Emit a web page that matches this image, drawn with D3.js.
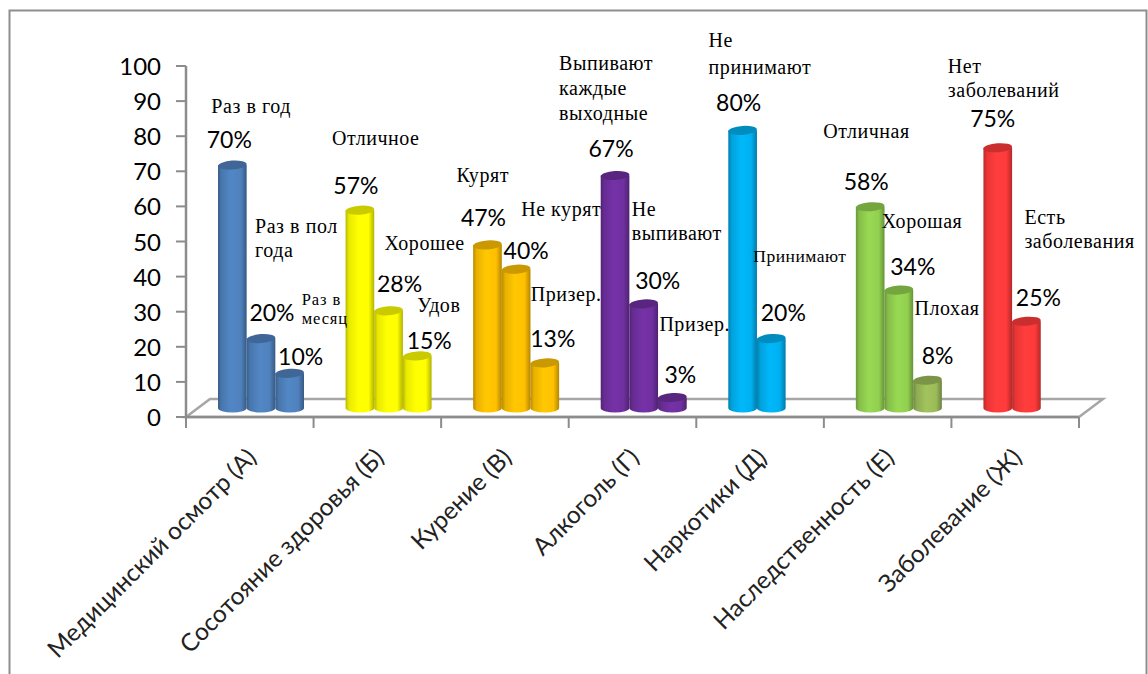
<!DOCTYPE html>
<html><head><meta charset="utf-8">
<script src="https://cdn.jsdelivr.net/npm/d3@7/dist/d3.min.js"></script>
<style>html,body{margin:0;padding:0;background:#fff}svg{display:block}</style>
</head><body><svg id="c" width="1148" height="674"></svg>
<script>
const categories = ["Медицинский осмотр (А)","Сосотояние здоровья (Б)","Курение (В)","Алкоголь (Г)","Наркотики (Д)","Наследственность (Е)","Заболевание (Ж)"];
const series1 = [70,57,47,67,80,58,75];
const series2 = [20,28,40,30,20,34,25];
const series3 = [10,15,13,3,null,8,null];
const yTicks = [0,10,20,30,40,50,60,70,80,90,100];
const names1 = [["Раз в год"],["Отличное"],["Курят"],["Выпивают","каждые","выходные"],["Не","принимают"],["Отличная"],["Нет","заболеваний"]];
const names2 = [["Раз в пол","года"],["Хорошее"],["Не курят"],["Не","выпивают"],["Принимают"],["Хорошая"],["Есть","заболевания"]];
const names3 = [["Раз в","месяц"],["Удов"],["Призер."],["Призер."],null,["Плохая"],null];
const colors1 = ["#4f81bd","#ffff00","#ffc000","#7030a0","#00b0f0","#92d050","#ff3a3a"];
const colors2 = colors1;
const colors3 = ["#4f81bd","#ffff00","#ffc000","#7030a0",null,"#9bbb59",null];

// layout: percent-label offset from bar top centre, free text anchor offset from bar top centre
const pctOff = [[[-3,-17],[11,-18],[11,-8]],[[-4,-16],[11,-19],[12,-7]],[[-4,-19],[10,-10],[8,-16]],[[-4,-19],[14,-15],[8,-15]],[[-4,-19],[12,-18]],[[-4,-17],[14,-15],[10,-16]],[[-5,-21],[12,-15]]];
const nameOff = [[[-21,-52],[-6,-106],[12,-68]],[[-28,-65],[-4,-61],[0,-44]],[[-31,-63],[5,-53],[-14,-62]],[[-56,-106],[-12,-88],[-13,-67]],[[-34,-83],[-18,-77]],[[-47,-69],[-17,-62],[-13,-65]],[[-50,-75],[-2,-97]]];

const W=1148,H=674;
const svg=d3.select("#c");
const defs=svg.append("defs");
const x=d3.scaleBand().domain(categories).range([186,1079]);
const inner=d3.scaleBand().domain([0,1,2]).range([32,118]);
const yAxisS=d3.scaleLinear().domain([0,100]).range([417,66]);
const yBar=d3.scaleLinear().domain([0,100]).range([408,61]);
const gray="#8c8c8c";

// frame
svg.append("path").attr("d","M9.5 674V10.5H1146.5V674").attr("fill","none").attr("stroke","#8e8e8e").attr("stroke-width",2);

// floor
const depth=24,rise=18;
svg.append("path").attr("d",`M186 417L${186+depth} ${417-rise}H${1079+depth}L1079 417Z`).attr("fill","#fff").attr("stroke","#a6a6a6").attr("stroke-width",2.5);
svg.append("path").attr("d","M186 66V417H1079").attr("fill","none").attr("stroke",gray).attr("stroke-width",2.5);

// y axis
const yG=svg.append("g");
yG.selectAll("line").data(yTicks).join("line").attr("x1",176).attr("x2",186).attr("y1",d=>yAxisS(d)).attr("y2",d=>yAxisS(d)).attr("stroke",gray).attr("stroke-width",2);
yG.selectAll("text").data(yTicks).join("text").attr("x",161).attr("y",d=>yAxisS(d)+9).attr("text-anchor","end").attr("font-family","Lato").attr("font-size",24).attr("fill","#000").text(d=>d);

// x ticks
const xt=[...categories.map(c=>x(c)),1079];
svg.append("g").selectAll("line").data(xt).join("line").attr("x1",d=>d).attr("x2",d=>d).attr("y1",417).attr("y2",428).attr("stroke",gray).attr("stroke-width",2);

// x labels
svg.append("g").selectAll("text").data(categories).join("text")
 .attr("transform",c=>`translate(${x(c)+x.bandwidth()/2-4},${447}) rotate(-45)`)
 .attr("text-anchor","end").attr("dy","0.7em").attr("font-family","Lato").attr("font-size",24.4).attr("fill","#222").text(c=>c);

// gradients
const lookup={};
function grad(col){
  if(lookup[col])return lookup[col];
  const id="g"+col.slice(1); lookup[col]=id;
  const c=d3.color(col);
  const g=defs.append("linearGradient").attr("id",id);
  [[0,c.darker(0.9)],[0.12,c.darker(0.25)],[0.45,c.brighter(0.12)],[0.8,c],[1,c.darker(1)]].forEach(([o,k])=>g.append("stop").attr("offset",o).attr("stop-color",k));
  return id;
}

const bars=[];
categories.forEach((c,i)=>{
  [[series1,colors1,names1],[series2,colors2,names2],[series3,colors3,names3]].forEach(([s,cs,ns],j)=>{
    if(s[i]==null)return;
    bars.push({c,i,j,v:s[i],col:cs[i],name:ns[i]});
  });
});
const cx=d=>x(d.c)+inner(d.j)+inner.bandwidth()/2;
const rx=inner.bandwidth()/2, ry=4.5;
const gB=svg.append("g");
gB.selectAll("path.body").data(bars).join("path").attr("class","body")
 .attr("d",d=>{const l=cx(d)-rx,r=cx(d)+rx,t=yBar(d.v),b=yBar(0);
   return `M${l} ${t}V${b}A${rx} ${ry} 0 0 0 ${r} ${b}V${t}Z`;})
 .attr("fill",d=>`url(#${grad(d.col)})`);
gB.selectAll("ellipse").data(bars).join("ellipse")
 .attr("cx",cx).attr("cy",d=>yBar(d.v)).attr("rx",rx).attr("ry",ry)
 .attr("transform",d=>`rotate(-4 ${cx(d)} ${yBar(d.v)})`)
 .attr("fill",d=>d3.color(d.col).darker(0.65));

// percent labels
svg.append("g").selectAll("text").data(bars).join("text")
 .attr("x",d=>cx(d)+pctOff[d.i][d.j][0]).attr("y",d=>yBar(d.v)+pctOff[d.i][d.j][1])
 .attr("text-anchor","middle").attr("font-family","Lato").attr("font-size",23).attr("fill","#000").text(d=>d.v+"%");

// free text names
const tg=svg.append("g").attr("font-family","Liberation Serif").attr("fill","#000");
bars.forEach(d=>{
  const small=(d.name[0]==="Раз в"), mid=(d.name[0]==="Принимают");
  const fs=small?16.5:mid?17.5:20, ls=small?0.9:mid?0.5:0.55, lh=small?19:(d.name[0]==="Не"&&d.i===4?27:d.i===3&&d.j===0?25:24);
  const tx=cx(d)+nameOff[d.i][d.j][0], ty=yBar(d.v)+nameOff[d.i][d.j][1];
  if(d.name[0]==="Хорошее") tg.append("rect").attr("x",tx-2).attr("y",ty-18).attr("width",86).attr("height",44).attr("fill","#fff");
  d.name.forEach((t,k)=>{
    tg.append("text").attr("x",tx).attr("y",ty+k*lh).attr("font-size",fs).attr("letter-spacing",ls).text(t);
  });
});
</script></body></html>
